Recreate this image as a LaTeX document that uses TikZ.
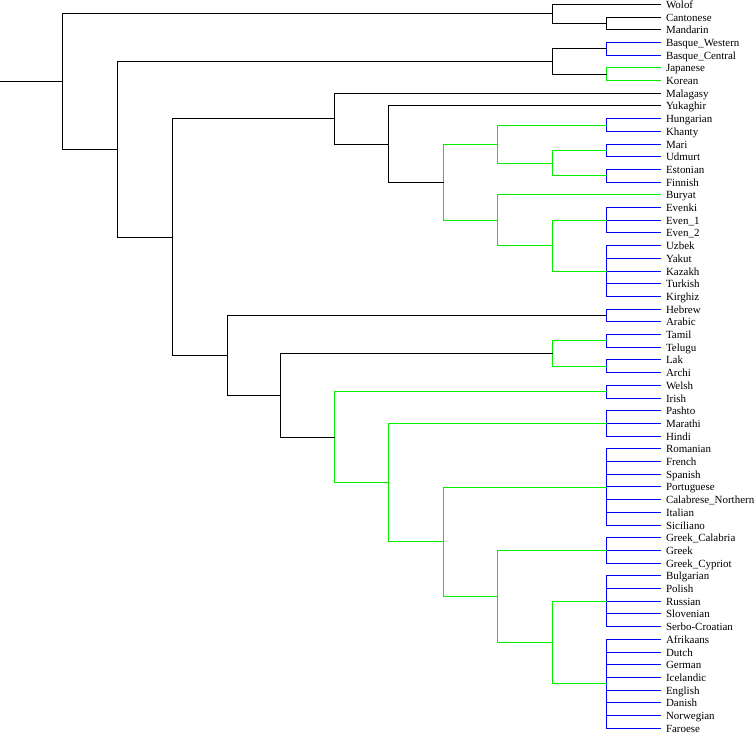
\documentclass[tikz,border=0pt]{standalone}
\usepackage{fontspec}
\setmainfont{Liberation Serif}
\begin{document}
\begin{tikzpicture}[x=1bp,y=-1bp,
  blk/.style={draw=black,line width=1.6bp},
  grn/.style={draw={rgb,255:red,0;green,240;blue,0},line width=1.6bp},
  blu/.style={draw={rgb,255:red,0;green,0;blue,245},line width=1.6bp},
  lab/.style={anchor=base west,inner sep=0pt,xshift=5.3bp,yshift=-4.2bp,font=\fontsize{11}{12}\selectfont}]
\useasboundingbox (0,0) rectangle (755,736);
\foreach \i/\t in {0/Wolof,1/Cantonese,2/Mandarin,3/Basque\_Western,4/Basque\_Central,5/Japanese,6/Korean,7/Malagasy,8/Yukaghir,9/Hungarian,10/Khanty,11/Mari,12/Udmurt,13/Estonian,14/Finnish,15/Buryat,16/Evenki,17/Even\_1,18/Even\_2,19/Uzbek,20/Yakut,21/Kazakh,22/Turkish,23/Kirghiz,24/Hebrew,25/Arabic,26/Tamil,27/Telugu,28/Lak,29/Archi,30/Welsh,31/Irish,32/Pashto,33/Marathi,34/Hindi,35/Romanian,36/French,37/Spanish,38/Portuguese,39/Calabrese\_Northern,40/Italian,41/Siciliano,42/Greek\_Calabria,43/Greek,44/Greek\_Cypriot,45/Bulgarian,46/Polish,47/Russian,48/Slovenian,49/Serbo-Croatian,50/Afrikaans,51/Dutch,52/German,53/Icelandic,54/English,55/Danish,56/Norwegian,57/Faroese}{
  \coordinate (l\i) at (660.5,{floor(4.4+12.7*\i)+0.5});
  \node[lab] (t\i) at (l\i) {\t};
}
% internal nodes
\coordinate (cm) at (606.5,23.5);
\coordinate (nA) at (552.5,13.5);
\coordinate (bq) at (606.5,48.5);
\coordinate (jk) at (606.5,74.5);
\coordinate (nBJ) at (552.5,61.5);
\coordinate (hk) at (606.5,125.5);
\coordinate (mu) at (606.5,150.5);
\coordinate (ef) at (606.5,175.5);
\coordinate (nJ) at (552.5,163.5);
\coordinate (nH) at (497.5,144.5);
\coordinate (tg) at (606.5,220.5);
\coordinate (tk) at (606.5,271.5);
\coordinate (nK) at (552.5,245.5);
\coordinate (nI) at (497.5,220.5);
\coordinate (nG) at (443.5,182.5);
\coordinate (nF) at (388.5,144.5);
\coordinate (nD) at (334.5,118.5);
\coordinate (ha) at (606.5,315.5);
\coordinate (tt) at (606.5,340.5);
\coordinate (la) at (606.5,366.5);
\coordinate (nM) at (552.5,353.5);
\coordinate (wi) at (606.5,391.5);
\coordinate (ii) at (606.5,423.5);
\coordinate (ro) at (606.5,487.5);
\coordinate (gr) at (606.5,550.5);
\coordinate (sl) at (606.5,601.5);
\coordinate (ge) at (606.5,683.5);
\coordinate (nR) at (552.5,642.5);
\coordinate (nQ) at (497.5,596.5);
\coordinate (nP) at (443.5,541.5);
\coordinate (nO) at (388.5,482.5);
\coordinate (nN) at (334.5,437.5);
\coordinate (nL) at (280.5,395.5);
\coordinate (nE) at (227.5,355.5);
\coordinate (nC) at (172.5,237.5);
\coordinate (nB) at (117.5,149.5);
\coordinate (root) at (62.5,81.5);
\coordinate (r0) at (0,81.5);
% blue leaf groups
\draw[blu] (l3) -| (bq) |- (l4);
\draw[blu] (l9) -| (hk) |- (l10);
\draw[blu] (l11) -| (mu) |- (l12);
\draw[blu] (l13) -| (ef) |- (l14);
\draw[blu] (l16) -| (tg) |- (l18) (tg) -- (l17);
\draw[blu] (l19) -| (tk) |- (l23) (tk) |- (l20) (tk) |- (l21) (tk) |- (l22);
\draw[blu] (l24) -| (ha) |- (l25);
\draw[blu] (l26) -| (tt) |- (l27);
\draw[blu] (l28) -| (la) |- (l29);
\draw[blu] (l30) -| (wi) |- (l31);
\draw[blu] (l32) -| (ii) |- (l34) (ii) -- (l33);
\draw[blu] (l35) -| (ro) |- (l41) (ro) |- (l36) (ro) |- (l37) (ro) |- (l38) (ro) |- (l39) (ro) |- (l40);
\draw[blu] (l42) -| (gr) |- (l44) (gr) -- (l43);
\draw[blu] (l45) -| (sl) |- (l49) (sl) |- (l46) (sl) |- (l47) (sl) |- (l48);
\draw[blu] (l50) -| (ge) |- (l57) (ge) |- (l51) (ge) |- (l52) (ge) |- (l53) (ge) |- (l54) (ge) |- (l55) (ge) |- (l56);
% green
\draw[grn] (l5) -| (jk) |- (l6);
\draw[grn] (mu) -| (nJ) |- (ef);
\draw[grn] (hk) -| (nH) |- (nJ);
\draw[grn] (tg) -| (nK) |- (tk);
\draw[grn] (l15) -| (nI) |- (nK);
\draw[grn] (nH) -| (nG) |- (nI);
\draw[grn] (tt) -| (nM) |- (la);
\draw[grn] (sl) -| (nR) |- (ge);
\draw[grn] (gr) -| (nQ) |- (nR);
\draw[grn] (ro) -| (nP) |- (nQ);
\draw[grn] (ii) -| (nO) |- (nP);
\draw[grn] (wi) -| (nN) |- (nO);
% black
\draw[blk] (l1) -| (cm) |- (l2);
\draw[blk] (l0) -| (nA) |- (cm);
\draw[blk] (bq) -| (nBJ) |- (jk);
\draw[blk] (l8) -| (nF) |- (nG);
\draw[blk] (l7) -| (nD) |- (nF);
\draw[blk] (nM) -| (nL) |- (nN);
\draw[blk] (ha) -| (nE) |- (nL);
\draw[blk] (nD) -| (nC) |- (nE);
\draw[blk] (nBJ) -| (nB) |- (nC);
\draw[blk] (nA) -| (root) |- (nB);
\draw[blk] (r0) -- (root);
\end{tikzpicture}
\end{document}
